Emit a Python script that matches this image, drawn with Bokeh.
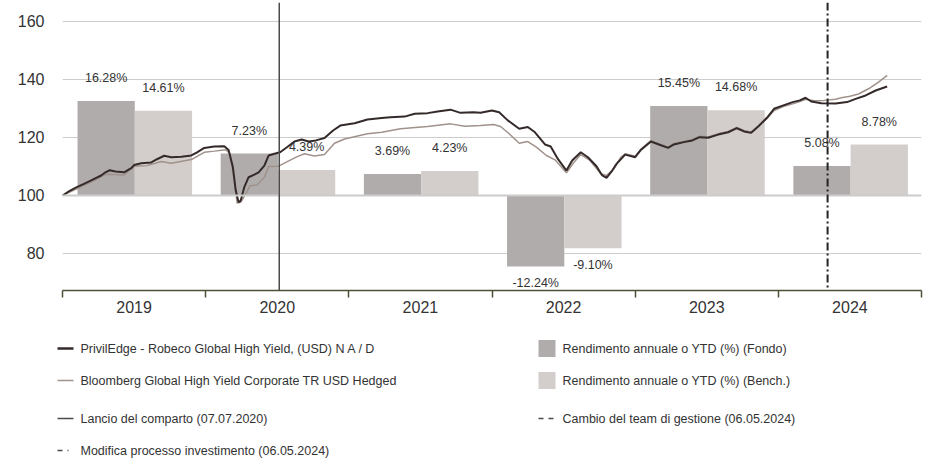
from bokeh.plotting import figure
from bokeh.layouts import column
from bokeh.models import FixedTicker, Range1d, Span
from bokeh.core.properties import value
from bokeh.embed import file_html
from bokeh.resources import INLINE

# ---------------- data ----------------
years = [2019, 2020, 2021, 2022, 2023, 2024]
year_labels = ["2019", "2020", "2021", "2022", "2023", "2024"]
fund_ret = [16.28, 7.23, 3.69, -12.24, 15.45, 5.08]
bench_ret = [14.61, 4.39, 4.23, -9.10, 14.68, 8.78]

fund_t = [2019.00, 2019.05, 2019.10, 2019.15, 2019.20, 2019.27, 2019.30, 2019.33, 2019.37, 2019.43,
          2019.48, 2019.50, 2019.55, 2019.62, 2019.66, 2019.71, 2019.76, 2019.83, 2019.90, 2019.94,
          2019.99, 2020.06, 2020.13, 2020.16, 2020.19, 2020.21, 2020.23, 2020.245, 2020.27, 2020.30,
          2020.34, 2020.37, 2020.41, 2020.44, 2020.48, 2020.52, 2020.57, 2020.62, 2020.67, 2020.72,
          2020.77, 2020.83, 2020.89, 2020.94, 2021.04, 2021.13, 2021.23, 2021.29, 2021.39, 2021.46,
          2021.55, 2021.62, 2021.71, 2021.78, 2021.87, 2021.92, 2022.00, 2022.05, 2022.11, 2022.19,
          2022.25, 2022.30, 2022.37, 2022.41, 2022.46, 2022.52, 2022.56, 2022.62, 2022.67, 2022.73,
          2022.77, 2022.80, 2022.84, 2022.87, 2022.93, 2023.00, 2023.04, 2023.11, 2023.17, 2023.23,
          2023.27, 2023.34, 2023.40, 2023.45, 2023.51, 2023.58, 2023.65, 2023.71, 2023.76, 2023.81,
          2023.86, 2023.92, 2023.97, 2024.03, 2024.10, 2024.15, 2024.19, 2024.23, 2024.30, 2024.40,
          2024.48, 2024.54, 2024.61, 2024.68, 2024.76]
fund_v = [100.0, 101.6, 102.9, 104.0, 105.2, 106.9, 108.0, 108.7, 108.3, 108.0,
          109.4, 110.5, 111.1, 111.4, 112.5, 113.7, 113.2, 113.4, 113.8, 114.9,
          116.4, 116.9, 117.0, 115.7, 109.8, 101.7, 97.7, 98.3, 102.9, 106.3,
          107.2, 108.0, 110.3, 113.8, 114.4, 114.9, 116.7, 118.6, 119.3, 118.6,
          119.0, 119.8, 122.4, 124.1, 124.9, 126.2, 126.7, 127.0, 127.2, 128.2,
          128.4, 129.0, 129.6, 128.5, 128.7, 128.5, 129.3, 128.7, 125.9, 123.0,
          123.6, 121.8, 117.6, 116.9, 112.6, 108.6, 112.1, 114.9, 113.2, 110.1,
          106.9, 106.1, 108.6, 110.9, 114.1, 113.2, 115.7, 118.6, 117.5, 116.4,
          117.6, 118.4, 119.0, 120.1, 119.9, 121.0, 121.8, 123.2, 122.1, 121.6,
          123.8, 126.8, 129.9, 131.0, 132.2, 132.8, 133.7, 132.4, 131.8, 131.7,
          132.2, 133.3, 134.5, 136.2, 137.6]

bench_t = [2019.00, 2019.05, 2019.10, 2019.15, 2019.20, 2019.30, 2019.36, 2019.43, 2019.50, 2019.59,
           2019.69, 2019.76, 2019.90, 2019.99, 2020.06, 2020.14, 2020.17, 2020.20, 2020.22, 2020.245,
           2020.28, 2020.31, 2020.36, 2020.41, 2020.44, 2020.51, 2020.57, 2020.64, 2020.69, 2020.76,
           2020.83, 2020.90, 2020.97, 2021.13, 2021.23, 2021.36, 2021.55, 2021.71, 2021.81, 2021.92,
           2022.01, 2022.06, 2022.12, 2022.19, 2022.25, 2022.31, 2022.38, 2022.44, 2022.52, 2022.57,
           2022.62, 2022.68, 2022.76, 2022.80, 2022.85, 2022.90, 2022.93, 2023.00, 2023.04, 2023.11,
           2023.17, 2023.23, 2023.27, 2023.34, 2023.40, 2023.45, 2023.51, 2023.58, 2023.65, 2023.71,
           2023.76, 2023.81, 2023.86, 2023.92, 2023.97, 2024.03, 2024.10, 2024.15, 2024.19, 2024.25,
           2024.32, 2024.40, 2024.44, 2024.50, 2024.56, 2024.63, 2024.70, 2024.76]
bench_v = [100.0, 101.2, 102.3, 103.5, 104.6, 107.3, 107.2, 107.1, 110.1, 110.3,
           111.7, 111.1, 112.4, 114.9, 115.3, 115.8, 114.4, 105.2, 97.4, 97.7,
           100.6, 103.4, 103.7, 106.3, 110.0, 110.1, 111.7, 113.4, 114.4, 113.6,
           114.1, 118.0, 119.5, 121.3, 121.8, 123.0, 123.8, 124.7, 123.9, 124.1,
           124.5, 123.8, 121.3, 118.0, 118.6, 116.7, 113.8, 112.3, 107.8, 111.3,
           114.1, 112.3, 107.5, 106.9, 109.2, 113.2, 114.4, 113.5, 116.0, 118.9,
           117.8, 116.7, 117.9, 118.7, 119.3, 120.4, 120.2, 121.3, 122.1, 123.5,
           122.4, 121.9, 124.0, 126.5, 129.3, 130.6, 131.6, 132.4, 133.2, 132.7,
           132.8, 133.2, 133.7, 134.2, 135.0, 136.8, 139.1, 141.4]

launch_date = 2020.514      # 07.07.2020
change_date = 2024.344      # 06.05.2024
y_ticks = [80, 100, 120, 140, 160]

# ---------------- styles ----------------
FONT = "'Liberation Sans', Arial, sans-serif"
TXT = "#333333"
FUND_LINE = "#352a2a"
BENCH_LINE = "#a0928a"
FUND_BAR = "#b0acab"
BENCH_BAR = "#d3cecb"
GRID = "#cccccc"
AXIS = "#4f4f38"

p = figure(frame_width=859, frame_height=288, output_backend="svg", toolbar_location=None,
           x_range=Range1d(2019, 2025), y_range=Range1d(67.24, 166.55),
           min_border_left=62, min_border_right=5, min_border_top=2, min_border_bottom=40)
p.outline_line_color = None
p.background_fill_color = "white"

# axes
p.xaxis.ticker = FixedTicker(ticks=[y + 0.5 for y in years], minor_ticks=years + [2025])
p.xaxis.major_label_overrides = {y + 0.5: lab for y, lab in zip(years, year_labels)}
p.xaxis.major_tick_line_color = None
p.xaxis.major_tick_out = 0
p.xaxis.major_tick_in = 0
p.xaxis.minor_tick_line_color = AXIS
p.xaxis.minor_tick_line_width = 1.5
p.xaxis.minor_tick_out = 7
p.xaxis.minor_tick_in = 0
p.xaxis.axis_line_color = AXIS
p.xaxis.axis_line_width = 1.5
p.xaxis.major_label_standoff = 3
p.xaxis.major_label_text_font = FONT
p.xaxis.major_label_text_font_size = "16px"
p.xaxis.major_label_text_color = TXT

p.yaxis.ticker = FixedTicker(ticks=y_ticks)
p.yaxis.axis_line_color = None
p.yaxis.major_tick_line_color = None
p.yaxis.minor_tick_line_color = None
p.yaxis.major_tick_out = 0
p.yaxis.major_label_standoff = 18
p.yaxis.major_label_text_font = FONT
p.yaxis.major_label_text_font_size = "16px"
p.yaxis.major_label_text_color = TXT

p.xgrid.grid_line_color = None
p.ygrid.ticker = FixedTicker(ticks=y_ticks)
p.ygrid.grid_line_color = GRID
p.ygrid.grid_line_width = 1

# bars (scaled: 1% return = 2 index points around the 100 base)
fund_x = [y + 0.305 for y in years]
bench_x = [y + 0.705 for y in years]
fund_top = [100 + 2 * r for r in fund_ret]
bench_top = [100 + 2 * r for r in bench_ret]
p.vbar(x=fund_x, width=0.40, bottom=100, top=fund_top, fill_color=FUND_BAR, line_color=None)
p.vbar(x=bench_x, width=0.40, bottom=100, top=bench_top, fill_color=BENCH_BAR, line_color=None)

p.add_layout(Span(location=100, dimension="width", line_color=GRID, line_width=2))

# bar labels
for xs, tops, rets in ((fund_x, fund_top, fund_ret), (bench_x, bench_top, bench_ret)):
    pos = [i for i, r in enumerate(rets) if r >= 0]
    neg = [i for i, r in enumerate(rets) if r < 0]
    p.text(x=[xs[i] for i in pos], y=[tops[i] for i in pos],
           text=["%.2f%%" % rets[i] for i in pos], y_offset=-23,
           text_align="center", text_baseline="middle", text_font=value(FONT),
           text_font_size="12.5px", text_color=TXT)
    p.text(x=[xs[i] for i in neg], y=[tops[i] for i in neg],
           text=["%.2f%%" % rets[i] for i in neg], y_offset=17,
           text_align="center", text_baseline="middle", text_font=value(FONT),
           text_font_size="12.5px", text_color=TXT)

# performance lines
p.line(bench_t, bench_v, line_color=BENCH_LINE, line_width=1.5)
p.line(fund_t, fund_v, line_color=FUND_LINE, line_width=2)

# event lines
p.add_layout(Span(location=launch_date, dimension="height", line_color="#4a4a4a", line_width=1.5))
p.add_layout(Span(location=change_date, dimension="height", line_color="#222222", line_width=2,
                  line_dash="8 3 2 3"))

# ---------------- legend (separate figure; its frame is aligned with the chart frame) ----------------
lg = figure(width=926, height=130, output_backend="svg", toolbar_location=None,
            x_range=Range1d(62, 921), y_range=Range1d(130, 0),
            x_axis_type=None, y_axis_type=None,
            min_border_left=62, min_border_right=5, min_border_top=0, min_border_bottom=0)
lg.outline_line_color = None
lg.grid.visible = False

left_labels = ["PrivilEdge - Robeco Global High Yield, (USD) N A / D",
               "Bloomberg Global High Yield Corporate TR USD Hedged",
               "Lancio del comparto (07.07.2020)",
               "Modifica processo investimento (06.05.2024)"]
right_labels = ["Rendimento annuale o YTD (%) (Fondo)",
                "Rendimento annuale o YTD (%) (Bench.)",
                "Cambio del team di gestione (06.05.2024)"]
rows = [18, 50, 88, 120]

# symbols left of the aligned frame: render at overlay level so they are not clipped
lg.segment(x0=57, y0=rows[0], x1=73, y1=rows[0], line_color=FUND_LINE, line_width=2.5, level="overlay")
lg.segment(x0=57, y0=rows[1], x1=73, y1=rows[1], line_color=BENCH_LINE, line_width=1.5, level="overlay")
lg.segment(x0=57, y0=rows[2], x1=73, y1=rows[2], line_color="#4a4a4a", line_width=1.5, level="overlay")
lg.segment(x0=57, y0=rows[3], x1=69, y1=rows[3], line_color="#4a4a4a", line_width=1.5,
           line_dash="5 5 1 5", level="overlay")
lg.text(x=[80] * 4, y=rows, text=left_labels, text_align="left", text_baseline="middle",
        text_font=value(FONT), text_font_size="12.5px", text_color=TXT)

lg.rect(x=[546.5, 546.5], y=rows[:2], width=17, height=17, fill_color=[FUND_BAR, BENCH_BAR],
        line_color=None)
lg.segment(x0=538, y0=rows[2], x1=553, y1=rows[2], line_color="#4a4a4a", line_width=1.5,
           line_dash="5 5")
lg.text(x=[562] * 3, y=rows[:3], text=right_labels, text_align="left", text_baseline="middle",
        text_font=value(FONT), text_font_size="12.5px", text_color=TXT)

layout = column(p, lg, spacing=0)
open("out.html", "w").write(file_html(layout, INLINE))
